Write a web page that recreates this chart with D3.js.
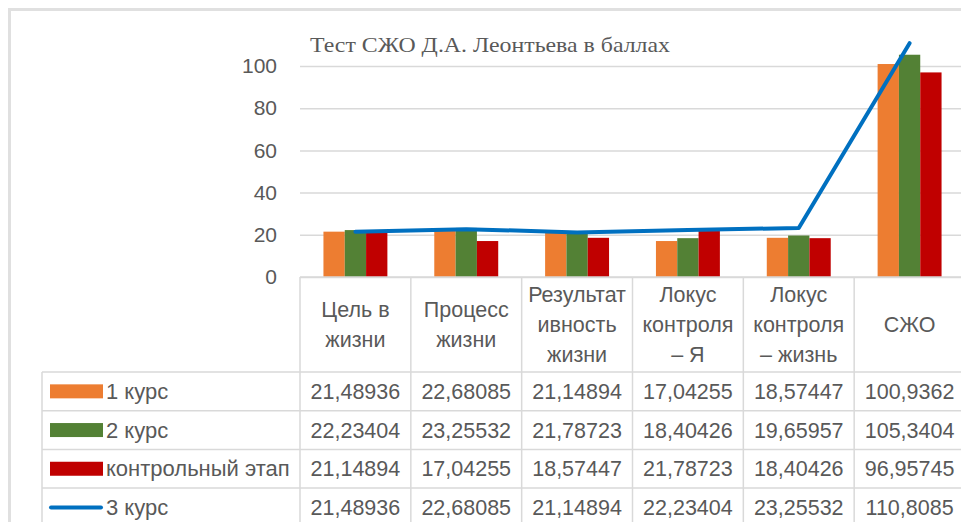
<!DOCTYPE html>
<html>
<head>
<meta charset="utf-8">
<script src="https://cdn.jsdelivr.net/npm/d3@7"></script>
<style>
  body { margin: 0; background: #fff; }
  svg { display: block; }
  .tick text { font-family: "Liberation Sans", Arial, sans-serif; fill: #595959; }
</style>
</head>
<body>
<div id="chart"></div>
<script>
// данные диаграммы
var categories = [
  ["Цель в", "жизни"],
  ["Процесс", "жизни"],
  ["Результат", "ивность", "жизни"],
  ["Локус", "контроля", "– Я"],
  ["Локус", "контроля", "– жизнь"],
  ["СЖО"]
];
var seriesNames = ["1 курс", "2 курс", "контрольный этап", "3 курс"];
var kurs1 = [21.48936, 22.68085, 21.14894, 17.04255, 18.57447, 100.9362];
var kurs2 = [22.23404, 23.25532, 21.78723, 18.40426, 19.65957, 105.3404];
var kontrol = [21.14894, 17.04255, 18.57447, 21.78723, 18.40426, 96.95745];
var kurs3 = [21.48936, 22.68085, 21.14894, 22.23404, 23.25532, 110.8085];
var kurs1Labels = ["21,48936", "22,68085", "21,14894", "17,04255", "18,57447", "100,9362"];
var kurs2Labels = ["22,23404", "23,25532", "21,78723", "18,40426", "19,65957", "105,3404"];
var kontrolLabels = ["21,14894", "17,04255", "18,57447", "21,78723", "18,40426", "96,95745"];
var kurs3Labels = ["21,48936", "22,68085", "21,14894", "22,23404", "23,25532", "110,8085"];
var yTicks = [0, 20, 40, 60, 80, 100];

var colors = ["#ed7d31", "#538135", "#c00000", "#0070c0"];
var barSeries = [kurs1, kurs2, kontrol];
var rowLabels = [kurs1Labels, kurs2Labels, kontrolLabels, kurs3Labels];

var width = 961, height = 522;
var plotLeft = 300, plotRight = 965;
var tableLeft = 42;
var headerTop = 277, headerBottom = 372, rowH = 38.7;
var gridColor = "#d9d9d9", textColor = "#595959";
var sans = "'Liberation Sans', Arial, sans-serif";

var svg = d3.select("#chart").append("svg")
    .attr("width", width)
    .attr("height", height);

// рамка диаграммы
svg.append("path")
    .attr("d", "M9.5," + height + "V9.5H" + width)
    .attr("fill", "none")
    .attr("stroke", "#e0e0e0")
    .attr("stroke-width", 3);

// заголовок
svg.append("text")
    .attr("x", 310)
    .attr("y", 52)
    .attr("fill", textColor)
    .attr("textLength", 360)
    .attr("lengthAdjust", "spacingAndGlyphs")
    .style("font-family", "'Liberation Serif', 'Times New Roman', serif")
    .style("font-size", "21px")
    .text("Тест СЖО Д.А. Леонтьева в баллах");

var xScale = d3.scaleBand()
    .domain(d3.range(categories.length))
    .range([plotLeft, plotRight])
    .padding(0);

var xInner = d3.scaleBand()
    .domain(d3.range(barSeries.length))
    .range([0, xScale.bandwidth()])
    .paddingInner(0)
    .paddingOuter(1.1);

var yScale = d3.scaleLinear()
    .domain([0, 100])
    .range([headerTop, 66]);

// ось Y и линии сетки
var yAxis = svg.append("g")
    .attr("transform", "translate(" + plotLeft + ",0)")
    .call(d3.axisLeft(yScale)
        .tickValues(yTicks)
        .tickSizeInner(-(plotRight - plotLeft))
        .tickSizeOuter(0)
        .tickPadding(23));
yAxis.select(".domain").remove();
yAxis.selectAll(".tick line").attr("stroke", gridColor).attr("stroke-width", 1.5);
yAxis.selectAll(".tick text").style("font-size", "21px");

// столбцы
barSeries.forEach(function(vals, s) {
    svg.append("g")
        .selectAll("rect")
        .data(vals)
        .enter()
        .append("rect")
        .attr("x", function(d, i){ return xScale(i) + xInner(s); })
        .attr("y", function(d){ return yScale(d); })
        .attr("width", xInner.bandwidth())
        .attr("height", function(d){ return yScale(0) - yScale(d); })
        .attr("fill", colors[s]);
});

// линия 3 курс
var line = d3.line()
    .x(function(d, i){ return xScale(i) + xScale.bandwidth() / 2; })
    .y(function(d){ return yScale(d); });
svg.append("path")
    .datum(kurs3)
    .attr("d", line)
    .attr("fill", "none")
    .attr("stroke", colors[3])
    .attr("stroke-width", 4)
    .attr("stroke-linejoin", "round")
    .attr("stroke-linecap", "round");

// таблица данных
var tbl = svg.append("g").attr("stroke", gridColor).attr("stroke-width", 1.5);
var nRows = rowLabels.length;
var tableBottom = headerBottom + rowH * nRows;
tbl.append("line")
    .attr("x1", plotLeft).attr("x2", plotRight)
    .attr("y1", headerTop).attr("y2", headerTop);
d3.range(nRows + 1).forEach(function(r) {
    var y = headerBottom + r * rowH;
    tbl.append("line")
        .attr("x1", tableLeft).attr("x2", plotRight)
        .attr("y1", y).attr("y2", y);
});
tbl.append("line")
    .attr("x1", tableLeft).attr("x2", tableLeft)
    .attr("y1", headerBottom).attr("y2", tableBottom);
d3.range(categories.length + 1).forEach(function(i) {
    var x = plotLeft + i * xScale.step();
    tbl.append("line")
        .attr("x1", x).attr("x2", x)
        .attr("y1", headerTop).attr("y2", tableBottom);
});

// заголовки столбцов
var headers = svg.append("g")
    .selectAll("text")
    .data(categories)
    .enter()
    .append("text")
    .attr("text-anchor", "middle")
    .attr("fill", textColor)
    .style("font-family", sans)
    .style("font-size", "21.5px");
headers.each(function(lines, i) {
    var cx = xScale(i) + xScale.bandwidth() / 2;
    var cy = (headerTop + headerBottom) / 2;
    d3.select(this).selectAll("tspan")
        .data(lines)
        .enter()
        .append("tspan")
        .attr("x", cx)
        .attr("y", function(d, k){ return cy + (k - (lines.length - 1) / 2) * 30; })
        .attr("dy", "0.35em")
        .text(function(d){ return d; });
});

// строки таблицы
rowLabels.forEach(function(labels, r) {
    var cy = headerBottom + r * rowH + rowH / 2;
    var row = svg.append("g");
    if (r < 3) {
        row.append("rect")
            .attr("x", 50).attr("y", cy - 7)
            .attr("width", 53).attr("height", 14)
            .attr("fill", colors[r]);
    } else {
        row.append("line")
            .attr("x1", 51).attr("x2", 101)
            .attr("y1", cy).attr("y2", cy)
            .attr("stroke", colors[r])
            .attr("stroke-width", 4)
            .attr("stroke-linecap", "round");
    }
    row.append("text")
        .attr("x", 106)
        .attr("y", cy)
        .attr("dy", "0.35em")
        .attr("fill", textColor)
        .style("font-family", sans)
        .style("font-size", "22px")
        .text(seriesNames[r]);
    row.selectAll(".val")
        .data(labels)
        .enter()
        .append("text")
        .attr("class", "val")
        .attr("x", function(d, i){ return xScale(i) + xScale.bandwidth() / 2; })
        .attr("y", cy)
        .attr("dy", "0.35em")
        .attr("text-anchor", "middle")
        .attr("fill", textColor)
        .style("font-family", sans)
        .style("font-size", "21.5px")
        .text(function(d){ return d; });
});
</script>
</body>
</html>
